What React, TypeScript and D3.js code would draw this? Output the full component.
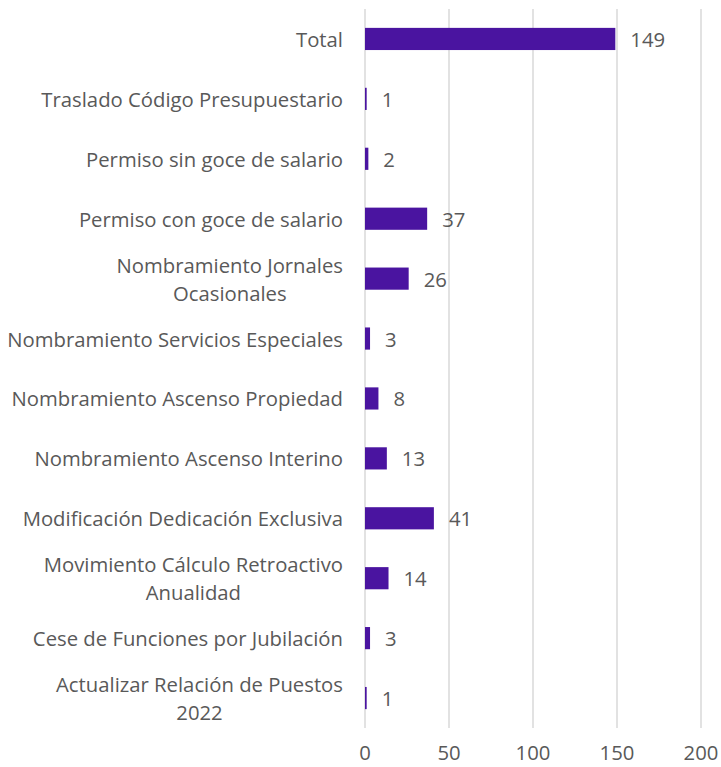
import React from "react";
import * as d3 from "d3";

const categories = [
  "Total",
  "Traslado Código Presupuestario",
  "Permiso sin goce de salario",
  "Permiso con goce de salario",
  "Nombramiento Jornales\nOcasionales",
  "Nombramiento Servicios Especiales",
  "Nombramiento Ascenso Propiedad",
  "Nombramiento Ascenso Interino",
  "Modificación Dedicación Exclusiva",
  "Movimiento Cálculo Retroactivo\nAnualidad",
  "Cese de Funciones por Jubilación",
  "Actualizar Relación de Puestos\n2022",
];
const values = [149, 1, 2, 37, 26, 3, 8, 13, 41, 14, 3, 1];
const xTicks = [0, 50, 100, 150, 200];

const W = 721;
const H = 767;
const left = 365;
const right = 701;
const top = 9;
const bottom = 728;
const font = "'Open Sans', sans-serif";
const fs = 20.3;
const textColor = "#595959";
const barColor = "#4A14A0";

export default function App() {
  const x = d3.scaleLinear().domain([0, 200]).range([left, right]);
  const y = d3
    .scaleBand<string>()
    .domain(categories)
    .range([top, bottom])
    .paddingInner(0.63)
    .paddingOuter(0.315);
  return (
    <svg
      width={W}
      height={H}
      style={{ position: "absolute", left: 0, top: 0 }}
      fontFamily={font}
    >
      <rect width={W} height={H} fill="#fff" />
      {xTicks.map((t) => (
        <g key={t}>
          <line x1={x(t)} x2={x(t)} y1={top} y2={bottom} stroke="#d9d9d9" strokeWidth={1.5} />
          <text x={x(t)} y={752} textAnchor="middle" dominantBaseline="central" fontSize={fs} fill={textColor}>
            {t}
          </text>
        </g>
      ))}
      {categories.map((c, i) => {
        const yc = (y(c) as number) + y.bandwidth() / 2;
        const lines = c.split("\n");
        const lh = 28;
        const labelRight = 343;
        return (
          <g key={c}>
            <rect x={x(0)} y={y(c)} width={x(values[i]) - x(0)} height={y.bandwidth()} fill={barColor} />
            <text x={x(values[i]) + 15} y={yc} dominantBaseline="central" fontSize={fs} fill={textColor}>
              {values[i]}
            </text>
            {lines.length === 1 ? (
              <text x={labelRight} y={yc} textAnchor="end" dominantBaseline="central" fontSize={fs} fill={textColor}>
                {c}
              </text>
            ) : (
              <MultiLine lines={lines} right={labelRight} yc={yc} lh={lh} />
            )}
          </g>
        );
      })}
    </svg>
  );
}

function MultiLine({ lines, right, yc, lh }: { lines: string[]; right: number; yc: number; lh: number }) {
  const ref = React.useRef<SVGGElement>(null);
  const [w, setW] = React.useState(0);
  React.useLayoutEffect(() => {
    if (ref.current) {
      const texts = Array.from(ref.current.querySelectorAll("text"));
      setW(Math.max(...texts.map((t) => (t as SVGTextElement).getComputedTextLength())));
    }
  }, []);
  const cx = right - w / 2;
  return (
    <g ref={ref}>
      {lines.map((l, k) => (
        <text
          key={k}
          x={cx}
          y={yc + (k - (lines.length - 1) / 2) * lh}
          textAnchor="middle"
          dominantBaseline="central"
          fontSize={fs}
          fill={textColor}
        >
          {l}
        </text>
      ))}
    </g>
  );
}
